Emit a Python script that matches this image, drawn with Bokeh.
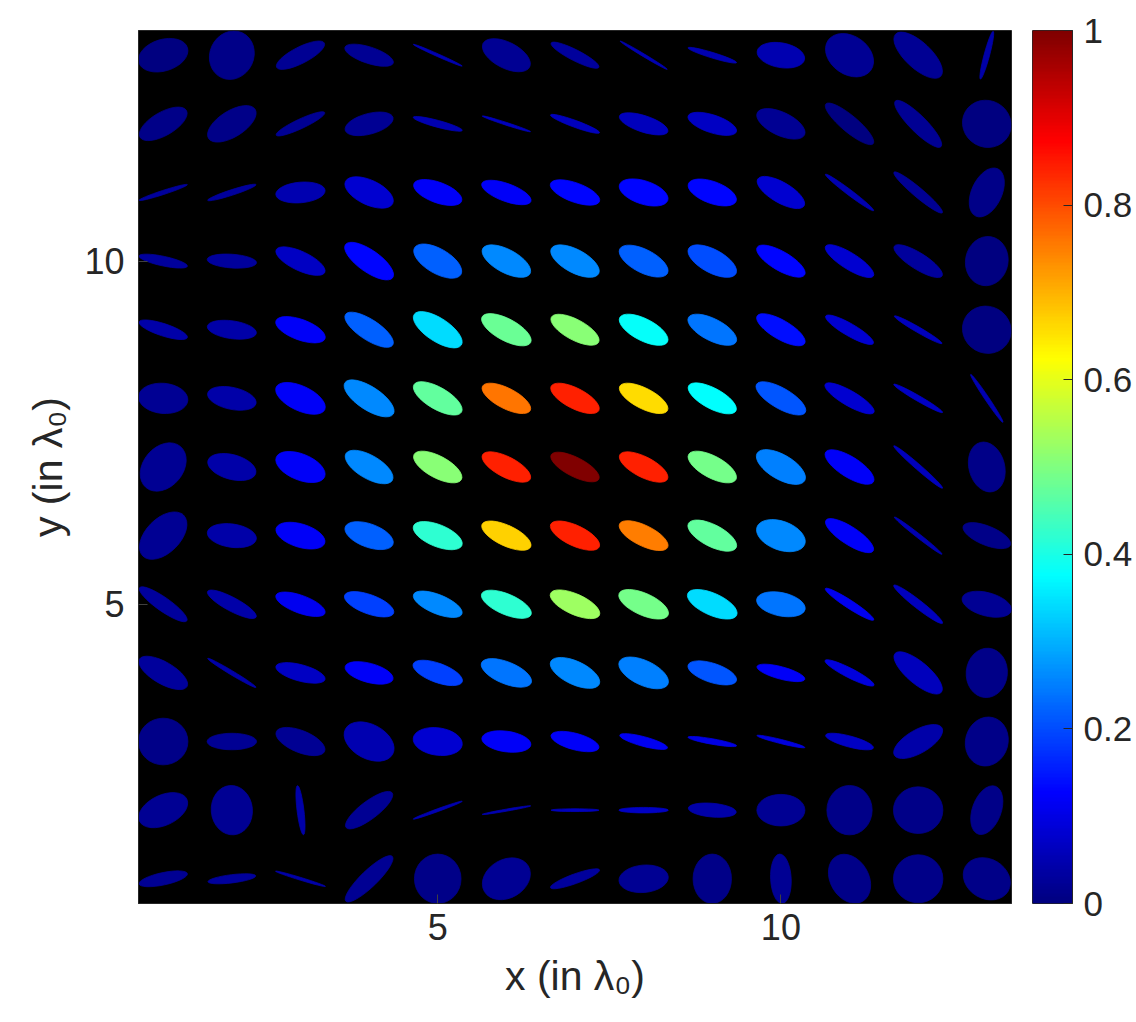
import numpy as np
from bokeh.plotting import figure
from bokeh.layouts import row
from bokeh.models import (Range1d, FixedTicker, LinearColorMapper,
                          ColumnDataSource, CustomJSTickFormatter)
from bokeh.embed import file_html
from bokeh.resources import INLINE

# grid positions (in lambda_0)
x_vals = list(range(1, 14))
y_vals = list(range(13, 0, -1))   # rows listed from top (y=13) to bottom (y=1)

# semi-major axis (lambda_0), one row per y value (top to bottom)
semi_major = [
    [0.37, 0.36, 0.39, 0.37, 0.39, 0.38, 0.39, 0.40, 0.37, 0.35, 0.38, 0.45, 0.36],
    [0.39, 0.40, 0.39, 0.36, 0.37, 0.37, 0.38, 0.37, 0.37, 0.38, 0.45, 0.47, 0.36],
    [0.37, 0.37, 0.36, 0.38, 0.37, 0.38, 0.38, 0.37, 0.37, 0.39, 0.44, 0.46, 0.38],
    [0.36, 0.36, 0.39, 0.42, 0.39, 0.39, 0.39, 0.39, 0.39, 0.40, 0.41, 0.41, 0.36],
    [0.37, 0.36, 0.38, 0.41, 0.41, 0.40, 0.39, 0.39, 0.39, 0.40, 0.40, 0.40, 0.36],
    [0.36, 0.36, 0.39, 0.42, 0.40, 0.39, 0.39, 0.39, 0.39, 0.41, 0.41, 0.41, 0.42],
    [0.39, 0.36, 0.38, 0.39, 0.39, 0.39, 0.39, 0.39, 0.39, 0.40, 0.41, 0.47, 0.37],
    [0.42, 0.36, 0.37, 0.37, 0.38, 0.39, 0.39, 0.39, 0.39, 0.37, 0.41, 0.44, 0.37],
    [0.42, 0.40, 0.38, 0.38, 0.38, 0.39, 0.39, 0.39, 0.39, 0.36, 0.42, 0.45, 0.37],
    [0.40, 0.41, 0.37, 0.36, 0.38, 0.39, 0.39, 0.39, 0.37, 0.36, 0.40, 0.44, 0.36],
    [0.36, 0.36, 0.38, 0.39, 0.36, 0.36, 0.36, 0.36, 0.36, 0.36, 0.36, 0.40, 0.36],
    [0.38, 0.36, 0.36, 0.42, 0.38, 0.36, 0.35, 0.36, 0.35, 0.35, 0.36, 0.36, 0.37],
    [0.36, 0.35, 0.38, 0.47, 0.36, 0.37, 0.38, 0.36, 0.36, 0.36, 0.38, 0.36, 0.36],
]

# semi-minor axis (lambda_0)
semi_minor = [
    [0.23, 0.32, 0.12, 0.12, 0.02, 0.19, 0.08, 0.02, 0.04, 0.18, 0.28, 0.19, 0.04],
    [0.17, 0.19, 0.07, 0.15, 0.05, 0.02, 0.05, 0.12, 0.13, 0.17, 0.12, 0.12, 0.34],
    [0.03, 0.04, 0.15, 0.18, 0.15, 0.13, 0.14, 0.17, 0.16, 0.15, 0.04, 0.07, 0.22],
    [0.07, 0.10, 0.14, 0.16, 0.18, 0.17, 0.17, 0.17, 0.17, 0.14, 0.12, 0.12, 0.31],
    [0.09, 0.13, 0.15, 0.15, 0.17, 0.16, 0.15, 0.16, 0.16, 0.14, 0.09, 0.04, 0.34],
    [0.22, 0.16, 0.18, 0.17, 0.16, 0.15, 0.15, 0.15, 0.15, 0.15, 0.11, 0.04, 0.03],
    [0.29, 0.18, 0.19, 0.17, 0.16, 0.15, 0.14, 0.15, 0.16, 0.18, 0.15, 0.04, 0.26],
    [0.25, 0.17, 0.17, 0.17, 0.16, 0.15, 0.15, 0.15, 0.16, 0.21, 0.13, 0.03, 0.14],
    [0.10, 0.10, 0.13, 0.14, 0.14, 0.15, 0.15, 0.16, 0.16, 0.17, 0.06, 0.06, 0.17],
    [0.16, 0.03, 0.12, 0.14, 0.14, 0.16, 0.17, 0.18, 0.14, 0.09, 0.07, 0.16, 0.30],
    [0.34, 0.12, 0.16, 0.25, 0.20, 0.15, 0.12, 0.07, 0.04, 0.03, 0.08, 0.17, 0.31],
    [0.22, 0.30, 0.05, 0.13, 0.02, 0.015, 0.02, 0.04, 0.10, 0.23, 0.33, 0.34, 0.21],
    [0.09, 0.06, 0.02, 0.12, 0.34, 0.28, 0.07, 0.20, 0.28, 0.15, 0.28, 0.35, 0.29],
]

# orientation of the major axis (degrees, counter-clockwise from x)
orientation = [
    [17, 65, 27, -18, -24, -27, -27, -31, -17, -10, -35, -43, 75],
    [30, 32, 25, 15, -15, -18, -20, -18, -18, -25, -40, -45, -30],
    [18, 18, 5, -25, -20, -20, -20, -18, -20, -30, -37, -40, 65],
    [-12, -4, -25, -35, -30, -28, -28, -27, -28, -30, -32, -32, 80],
    [-18, -8, -20, -33, -33, -28, -28, -27, -27, -30, -30, -30, -30],
    [-5, -12, -25, -33, -30, -27, -27, -27, -28, -30, -30, -30, -56],
    [50, -15, -22, -30, -28, -27, -27, -27, -28, -30, -32, -41, -75],
    [45, -8, -17, -20, -22, -25, -25, -26, -27, -20, -33, -38, -22],
    [-35, -28, -20, -20, -22, -23, -24, -24, -24, -12, -33, -38, -15],
    [-30, -31, -15, -15, -20, -22, -25, -25, -18, -15, -27, -40, 85],
    [0, 0, -22, -28, -8, -8, -15, -15, -10, -14, -15, 30, 75],
    [25, 95, -83, 37, 20, 10, 0, 0, -5, 0, 90, 0, 70],
    [12, 7, -17, 44, 90, 30, 20, 5, 90, 93, -60, 0, -30],
]

# normalised intensity (colour)
intensity = [
    [0.00, 0.01, 0.02, 0.02, 0.05, 0.02, 0.03, 0.05, 0.05, 0.05, 0.02, 0.02, 0.04],
    [0.01, 0.01, 0.02, 0.02, 0.05, 0.06, 0.06, 0.06, 0.07, 0.02, 0.00, 0.02, 0.00],
    [0.03, 0.03, 0.05, 0.08, 0.12, 0.12, 0.13, 0.13, 0.13, 0.08, 0.05, 0.02, 0.01],
    [0.03, 0.03, 0.07, 0.13, 0.22, 0.26, 0.26, 0.22, 0.20, 0.13, 0.08, 0.03, 0.00],
    [0.04, 0.04, 0.12, 0.22, 0.34, 0.48, 0.51, 0.38, 0.24, 0.14, 0.08, 0.06, 0.00],
    [0.02, 0.04, 0.12, 0.26, 0.47, 0.76, 0.84, 0.66, 0.375, 0.21, 0.08, 0.07, 0.05],
    [0.02, 0.04, 0.12, 0.26, 0.51, 0.84, 1.00, 0.84, 0.49, 0.25, 0.12, 0.06, 0.01],
    [0.02, 0.04, 0.12, 0.22, 0.42, 0.67, 0.84, 0.75, 0.47, 0.26, 0.12, 0.05, 0.01],
    [0.03, 0.04, 0.11, 0.19, 0.26, 0.42, 0.53, 0.49, 0.34, 0.24, 0.11, 0.06, 0.02],
    [0.03, 0.04, 0.07, 0.12, 0.19, 0.24, 0.26, 0.25, 0.21, 0.12, 0.09, 0.06, 0.01],
    [0.01, 0.02, 0.02, 0.05, 0.08, 0.12, 0.12, 0.11, 0.10, 0.09, 0.07, 0.04, 0.01],
    [0.02, 0.02, 0.04, 0.02, 0.05, 0.05, 0.06, 0.07, 0.04, 0.02, 0.01, 0.01, 0.01],
    [0.02, 0.03, 0.04, 0.02, 0.01, 0.02, 0.03, 0.02, 0.01, 0.02, 0.01, 0.01, 0.01],
]

axis_ticks = [5, 10]
cbar_ticks = [0, 0.2, 0.4, 0.6, 0.8, 1]
cbar_low, cbar_high = 0, 1


def jet_palette(n=256):
    pal = []
    for i in range(n):
        v = i / (n - 1)
        r = min(max(1.5 - abs(4 * v - 3), 0), 1)
        g = min(max(1.5 - abs(4 * v - 2), 0), 1)
        b = min(max(1.5 - abs(4 * v - 1), 0), 1)
        pal.append("#%02x%02x%02x" % (round(r * 255), round(g * 255), round(b * 255)))
    return pal


jet = jet_palette()
mapper = LinearColorMapper(palette=jet, low=cbar_low, high=cbar_high)

X, Y, W, H, A, V = [], [], [], [], [], []
for i, yv in enumerate(y_vals):
    for j, xv in enumerate(x_vals):
        X.append(xv)
        Y.append(yv)
        W.append(2 * semi_major[i][j])
        H.append(2 * semi_minor[i][j])
        A.append(orientation[i][j])
        V.append(intensity[i][j])

src = ColumnDataSource(dict(x=X, y=Y, w=W, h=H, a=A, v=V))

FONT = "Liberation Sans"
TXT = "#262626"

p = figure(frame_width=873, frame_height=873,
           x_range=Range1d(0.64, 13.36), y_range=Range1d(0.64, 13.36),
           output_backend="svg", toolbar_location=None,
           min_border_left=138, min_border_top=30, min_border_right=21,
           min_border_bottom=0)
p.background_fill_color = "black"
p.border_fill_color = "white"
p.outline_line_color = TXT
p.grid.visible = False

p.ellipse(x="x", y="y", width="w", height="h", angle="a", angle_units="deg",
          source=src,
          fill_color={"field": "v", "transform": mapper},
          line_color={"field": "v", "transform": mapper}, line_width=0.8)

for ax in (p.xaxis[0], p.yaxis[0]):
    ax.ticker = FixedTicker(ticks=axis_ticks)
    ax.major_tick_in = 9
    ax.major_tick_out = 0
    ax.minor_tick_in = 0
    ax.minor_tick_out = 0
    ax.major_tick_line_color = "#404040"
    ax.axis_line_color = TXT
    ax.major_label_text_font = FONT
    ax.major_label_text_font_size = "36px"
    ax.major_label_text_color = TXT
    ax.axis_label_text_font = FONT
    ax.axis_label_text_font_size = "41px"
    ax.axis_label_text_font_style = "normal"
    ax.axis_label_text_color = TXT

p.xaxis.axis_label = "x (in λ₀)"
p.yaxis.axis_label = "y (in λ₀)"
p.xaxis.major_label_standoff = 10
p.xaxis.axis_label_standoff = 10
p.yaxis.major_label_standoff = 14
p.yaxis.axis_label_standoff = 10

# colour bar drawn as its own narrow panel
cb = figure(frame_width=40, frame_height=873,
            x_range=Range1d(0, 1), y_range=Range1d(cbar_low, cbar_high),
            output_backend="svg", toolbar_location=None,
            y_axis_location="right",
            min_border_left=0, min_border_top=30, min_border_right=0,
            min_border_bottom=60)
cb.grid.visible = False
cb.xaxis.visible = False
cb.border_fill_color = "white"
cb.outline_line_color = TXT
gradient = np.linspace(cbar_low, cbar_high, 256).reshape(256, 1)
cb.image(image=[gradient], x=0, y=cbar_low, dw=1, dh=cbar_high - cbar_low,
         color_mapper=mapper)
cax = cb.yaxis[0]
cax.ticker = FixedTicker(ticks=cbar_ticks)
cax.formatter = CustomJSTickFormatter(code="return (Math.round(tick*10)/10).toString();")
cax.major_tick_in = 9
cax.major_tick_out = 0
cax.minor_tick_in = 0
cax.minor_tick_out = 0
cax.major_tick_line_color = TXT
cax.axis_line_color = TXT
cax.major_label_standoff = 11
cax.major_label_text_font = FONT
cax.major_label_text_font_size = "35px"
cax.major_label_text_color = TXT

layout = row(p, cb)
open("out.html", "w").write(file_html(layout, INLINE))
